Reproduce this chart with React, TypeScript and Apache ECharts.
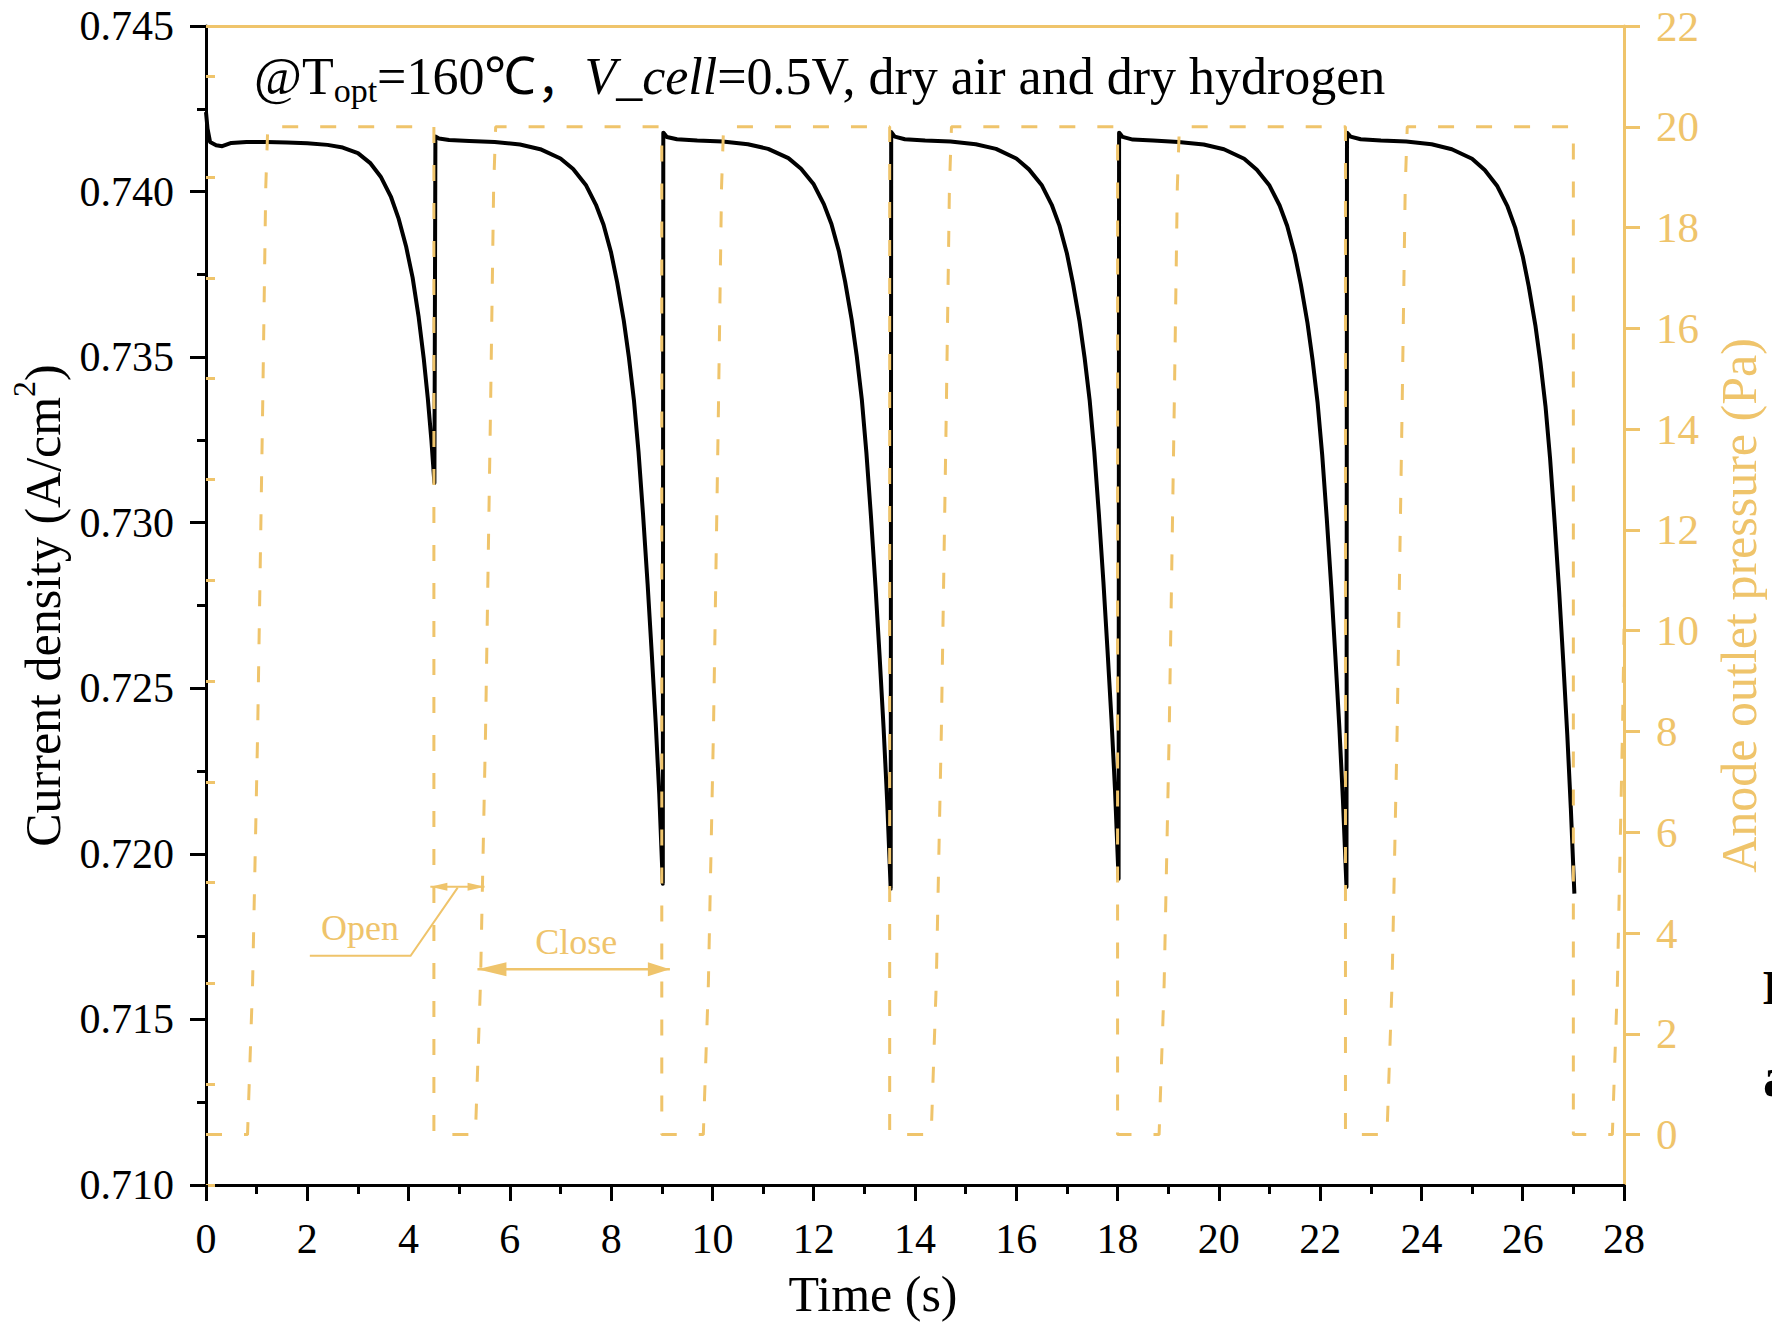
import React, { useEffect, useRef } from "react";
import * as echarts from "echarts";

const ORANGE = "#EFC46B";
const FONT = "'Liberation Serif', 'Times New Roman', serif";

// Current density (A/cm2) vs time (s)
const currentPoints: [number, number][] = [
  [0, 0.7424], [0.03, 0.7419], [0.08, 0.7415], [0.2, 0.7414], [0.32, 0.74137], [0.5, 0.74147], [0.8, 0.7415],
  [1.2, 0.7415], [1.6, 0.74148], [2.0, 0.74146], [2.4, 0.74141], [2.7, 0.74133], [3.0, 0.74116], [3.25, 0.74085],
  [3.45, 0.74045], [3.65, 0.73985], [3.8, 0.7392], [3.95, 0.73835], [4.08, 0.7374], [4.2, 0.7362], [4.3, 0.73495],
  [4.38, 0.73375], [4.45, 0.7325], [4.51, 0.7312],
  [4.53, 0.74166], [4.6, 0.7416], [4.8, 0.74156],
  [5.2, 0.74153], [5.7, 0.7415], [6.2, 0.74142], [6.6, 0.74128], [7.0, 0.741], [7.25, 0.74068], [7.5, 0.7402],
  [7.7, 0.7396], [7.85, 0.739], [8.0, 0.73815], [8.12, 0.73725], [8.25, 0.7361], [8.35, 0.735], [8.45, 0.7337],
  [8.54, 0.73215], [8.63, 0.73025], [8.72, 0.72815], [8.8, 0.7261], [8.88, 0.72395], [8.95, 0.7218], [9.02, 0.7191],
  [9.03, 0.74178], [9.1, 0.74165], [9.3, 0.74158],
  [9.7, 0.74154], [10.2, 0.74151], [10.7, 0.74143], [11.1, 0.74129], [11.5, 0.74101], [11.75, 0.74069], [12.0, 0.74022],
  [12.2, 0.73962], [12.35, 0.73902], [12.5, 0.73818], [12.62, 0.73728], [12.75, 0.73613], [12.85, 0.73503], [12.95, 0.73372],
  [13.04, 0.73212], [13.13, 0.7302], [13.22, 0.72808], [13.3, 0.726], [13.38, 0.7238], [13.45, 0.7216], [13.52, 0.71895],
  [13.53, 0.7418], [13.6, 0.74166], [13.8, 0.74158],
  [14.2, 0.74154], [14.7, 0.74151], [15.2, 0.74143], [15.6, 0.74129], [16.0, 0.741], [16.25, 0.74067], [16.5, 0.7402],
  [16.7, 0.7396], [16.85, 0.73898], [17.0, 0.73813], [17.12, 0.73722], [17.25, 0.73607], [17.35, 0.73497], [17.45, 0.73368],
  [17.54, 0.73215], [17.63, 0.73028], [17.72, 0.72822], [17.8, 0.72618], [17.88, 0.72405], [17.95, 0.72192], [18.02, 0.71925],
  [18.03, 0.74178], [18.1, 0.74165], [18.3, 0.74157],
  [18.7, 0.74154], [19.2, 0.7415], [19.7, 0.74142], [20.1, 0.74128], [20.5, 0.74099], [20.75, 0.74066], [21.0, 0.74018],
  [21.2, 0.73958], [21.35, 0.73896], [21.5, 0.7381], [21.62, 0.73719], [21.75, 0.73603], [21.85, 0.73492], [21.95, 0.73362],
  [22.04, 0.73206], [22.13, 0.73015], [22.22, 0.72805], [22.3, 0.72598], [22.38, 0.7238], [22.45, 0.72162], [22.52, 0.719],
  [22.53, 0.74178], [22.6, 0.74166], [22.8, 0.74158],
  [23.2, 0.74154], [23.7, 0.74151], [24.2, 0.74143], [24.6, 0.74128], [25.0, 0.74099], [25.25, 0.74065], [25.5, 0.74016],
  [25.7, 0.73955], [25.85, 0.73892], [26.0, 0.73805], [26.12, 0.73713], [26.25, 0.73596], [26.35, 0.73484], [26.45, 0.73352],
  [26.54, 0.73195], [26.63, 0.73002], [26.72, 0.72792], [26.8, 0.72582], [26.88, 0.7236], [26.95, 0.72138], [27.02, 0.7188],
];

// Anode outlet pressure (Pa) vs time (s)
const pressurePoints: [number, number][] = [
  [0, 0], [0.82, 0], [0.92, 3], [1.02, 8], [1.12, 14.5], [1.18, 18.8], [1.22, 20], [4.5, 20], [4.5, 0],
  [5.32, 0], [5.42, 3], [5.52, 8], [5.62, 14.5], [5.68, 18.8], [5.72, 20], [9.0, 20], [9.0, 0],
  [9.82, 0], [9.92, 3], [10.02, 8], [10.12, 14.5], [10.18, 18.8], [10.22, 20], [13.5, 20], [13.5, 0],
  [14.32, 0], [14.42, 3], [14.52, 8], [14.62, 14.5], [14.68, 18.8], [14.72, 20], [18.0, 20], [18.0, 0],
  [18.82, 0], [18.92, 3], [19.02, 8], [19.12, 14.5], [19.18, 18.8], [19.22, 20], [22.5, 20], [22.5, 0],
  [23.32, 0], [23.42, 3], [23.52, 8], [23.62, 14.5], [23.68, 18.8], [23.72, 20], [27.0, 20], [27.0, 0],
  [27.77, 0], [27.87, 3], [27.97, 8], [28.07, 14.5], [28.13, 18.8], [28.17, 20],
];

const pressureMajorTicks = [0, 2, 4, 6, 8, 10, 12, 14, 16, 18, 20, 22];
const pressureMinorTicks = [-1, 1, 3, 5, 7, 9, 11, 13, 15, 17, 19, 21];

// annotation anchors in (time, pressure) coordinates
const openLabelAt: [number, number] = [3.04, 4.1];
const openLeader: [number, number][] = [[2.05, 3.55], [4.04, 3.55], [4.97, 4.9]];
const openArrow: [number, number][] = [[4.43, 4.92], [5.5, 4.92]];
const closeLabelAt: [number, number] = [7.31, 3.83];
const closeArrow: [number, number][] = [[5.36, 3.28], [9.16, 3.28]];

function arrowHead(tip: number[], dir: number, len: number, half: number) {
  return {
    type: "polygon",
    shape: { points: [[tip[0], tip[1]], [tip[0] - dir * len, tip[1] - half], [tip[0] - dir * len, tip[1] + half]] },
    style: { fill: ORANGE },
    z: 20,
  };
}

export default function App() {
  const ref = useRef<HTMLDivElement>(null);
  useEffect(() => {
    document.body.style.margin = "0";
    const chart = echarts.init(ref.current!, null, { renderer: "svg" });
    const axisText = { fontFamily: FONT, fontSize: 42, color: "#000" };
    const option: any = {
      animation: false,
      backgroundColor: "#fff",
      grid: { left: 205, right: 146, top: 26, bottom: 136, containLabel: false },
      xAxis: [
        {
          type: "value", min: 0, max: 28, interval: 2, position: "bottom",
          name: "Time (s)", nameLocation: "middle", nameGap: 84,
          nameTextStyle: { fontFamily: FONT, fontSize: 50, color: "#000", padding: [0, 84, 0, 0] },
          axisLine: { show: true, onZero: false, lineStyle: { color: "#000", width: 3 } },
          axisTick: { show: true, inside: false, length: 16, lineStyle: { color: "#000", width: 3 } },
          minorTick: { show: true, splitNumber: 2, length: 9, lineStyle: { color: "#000", width: 3 } },
          axisLabel: { ...axisText, margin: 33 },
          splitLine: { show: false },
          minorSplitLine: { show: false },
        },
        {
          type: "value", min: 0, max: 28, position: "top",
          axisLine: { show: true, onZero: false, lineStyle: { color: ORANGE, width: 3 } },
          axisTick: { show: false }, axisLabel: { show: false }, splitLine: { show: false },
        },
      ],
      yAxis: [
        {
          type: "value", min: 0.71, max: 0.745, interval: 0.005, position: "left",
          name: "{a|Current density (A/cm}{s|2}{a|)}", nameLocation: "middle", nameGap: 138, nameRotate: 90,
          nameTextStyle: {
            color: "#000",
            rich: {
              a: { fontFamily: FONT, fontSize: 50, color: "#000", lineHeight: 60, verticalAlign: "bottom" },
              s: { fontFamily: FONT, fontSize: 32, color: "#000", lineHeight: 60, verticalAlign: "top", padding: [0, 0, 14, 0] },
            },
          },
          axisLine: { show: true, onZero: false, lineStyle: { color: "#000", width: 3 } },
          axisTick: { show: true, inside: false, length: 16, lineStyle: { color: "#000", width: 3 } },
          minorTick: { show: true, splitNumber: 2, length: 9, lineStyle: { color: "#000", width: 3 } },
          axisLabel: { ...axisText, margin: 32, formatter: (v: number) => v.toFixed(3) },
          splitLine: { show: false },
          minorSplitLine: { show: false },
        },
        {
          type: "value", min: -1, max: 22, position: "right",
          name: "Anode outlet pressure (Pa)", nameLocation: "middle", nameGap: 90, nameRotate: 90,
          nameTextStyle: { fontFamily: FONT, fontSize: 50, color: ORANGE },
          axisLine: { show: true, onZero: false, lineStyle: { color: ORANGE, width: 3 } },
          axisTick: { show: true, inside: false, length: 16, customValues: pressureMajorTicks, lineStyle: { color: ORANGE, width: 3 } },
          axisLabel: { fontFamily: FONT, fontSize: 43, color: ORANGE, margin: 32, customValues: pressureMajorTicks },
          splitLine: { show: false },
        },
        {
          type: "value", min: -1, max: 22, position: "right",
          axisLine: { show: false },
          axisTick: { show: true, inside: false, length: 9, customValues: pressureMinorTicks, lineStyle: { color: ORANGE, width: 3 } },
          axisLabel: { show: false },
          splitLine: { show: false },
        },
      ],
      series: [
        {
          type: "line", name: "Current density", xAxisIndex: 0, yAxisIndex: 0,
          data: currentPoints, showSymbol: false, symbol: "none",
          lineStyle: { color: "#000", width: 4, join: "round" }, z: 2,
        },
        {
          type: "line", name: "Anode outlet pressure", xAxisIndex: 0, yAxisIndex: 1,
          data: pressurePoints, showSymbol: false, symbol: "none",
          lineStyle: { color: ORANGE, width: 3, type: [16, 22] }, z: 3,
        },
      ],
    };
    chart.setOption(option);

    const px = (p: [number, number]) => chart.convertToPixel({ seriesIndex: 1 }, p) as number[];
    const lead = openLeader.map(px);
    const oa0 = px(openArrow[0]);
    const oa1 = px(openArrow[1]);
    const ca0 = px(closeArrow[0]);
    const ca1 = px(closeArrow[1]);
    const ol = px(openLabelAt);
    const cl = px(closeLabelAt);

    chart.setOption({
      graphic: [
        {
          type: "text", x: 254, y: 76, z: 30,
          style: {
            text: "{m|@T}{sub|opt}{m|=160℃}{c|，}{i|V_cell}{m|=0.5V, dry air and dry hydrogen}",
            verticalAlign: "middle", align: "left",
            rich: {
              m: { fontFamily: FONT, fontSize: 52, fill: "#000", lineHeight: 62 },
              c: { fontFamily: "'Noto Sans CJK SC', 'Noto Sans CJK JP', sans-serif", fontSize: 48, fill: "#000", lineHeight: 62 },
              i: { fontFamily: FONT, fontSize: 52, fontStyle: "italic", fill: "#000", lineHeight: 62 },
              sub: { fontFamily: FONT, fontSize: 34, fill: "#000", lineHeight: 32, verticalAlign: "bottom" },
            },
          },
        },
        { type: "polyline", shape: { points: lead }, style: { stroke: ORANGE, lineWidth: 2, fill: null }, z: 20 },
        { type: "line", shape: { x1: oa0[0], y1: oa0[1], x2: oa1[0], y2: oa1[1] }, style: { stroke: ORANGE, lineWidth: 2 }, z: 20 },
        arrowHead(oa0, -1, 17, 4),
        arrowHead(oa1, 1, 17, 4),
        { type: "line", shape: { x1: ca0[0], y1: ca0[1], x2: ca1[0], y2: ca1[1] }, style: { stroke: ORANGE, lineWidth: 2.5 }, z: 20 },
        arrowHead(ca0, -1, 29, 7),
        arrowHead(ca1, 1, 22, 7),
        {
          type: "text", x: ol[0], y: ol[1], z: 20,
          style: { text: "Open", fontFamily: FONT, fontSize: 36, fill: ORANGE, align: "center", verticalAlign: "middle" },
        },
        {
          type: "text", x: cl[0], y: cl[1], z: 20,
          style: { text: "Close", fontFamily: FONT, fontSize: 36, fill: ORANGE, align: "center", verticalAlign: "middle" },
        },
        {
          type: "text", x: 1762, y: 987, z: 20,
          style: { text: "I", fontFamily: FONT, fontSize: 48, fontWeight: "bold", fill: "#000", align: "left", verticalAlign: "middle" },
        },
        {
          type: "text", x: 1763, y: 1077, z: 20,
          style: { text: "a", fontFamily: FONT, fontSize: 56, fontWeight: "bold", fill: "#000", align: "left", verticalAlign: "middle" },
        },
      ],
    });
    return () => chart.dispose();
  }, []);
  return <div ref={ref} style={{ width: 1772, height: 1324 }} />;
}
